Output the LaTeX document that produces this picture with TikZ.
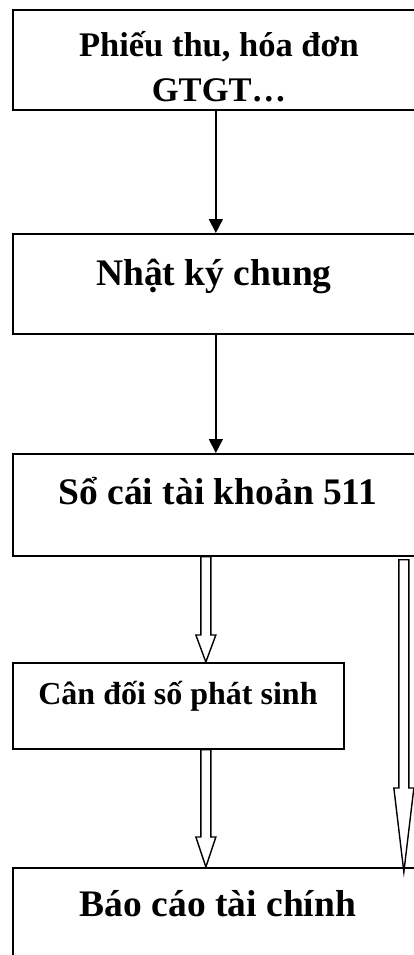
\documentclass[tikz,border=0pt]{standalone}
\usepackage{fontspec}
\setmainfont{Liberation Serif}
\usetikzlibrary{arrows.meta,calc}
% outlined block arrow: #1 = start of shaft, #2 = tip, #3 = head length, #4 = head half-width
\newcommand{\blockarrow}[4]{%
  \draw[hollow] ($(#1)+(-5,0)$) -- ($(#2)+(-5,-#3)$) -- ($(#2)+(-#4,-#3)$) -- (#2)
    -- ($(#2)+(#4,-#3)$) -- ($(#2)+(5,-#3)$) -- ($(#1)+(5,0)$) -- cycle;}
\begin{document}
\begin{tikzpicture}[x=1pt,y=-1pt,
  box/.style={draw, line width=1.7pt, anchor=north west, inner sep=0pt},
  lbl/.style={font=\bfseries\fontsize{37.5}{45}\selectfont, align=center, inner sep=0pt},
  head/.style={font=\bfseries\fontsize{34.5}{45}\selectfont, align=center, inner sep=0pt},
  small/.style={font=\bfseries\fontsize{32}{38}\selectfont, inner sep=0pt},
  flow/.style={line width=1.6pt, -{Triangle[width=14pt,length=14pt]}},
  hollow/.style={draw, line width=1.4pt, fill=white, line join=miter}]
\useasboundingbox (0,0) rectangle (414,955);
\clip (0,0) rectangle (414,955);

% boxes
\node[box, minimum width=412pt, minimum height=100pt] (b1) at (12,9) {};
\node[box, minimum width=412pt, minimum height=100pt] (b2) at (12,233) {};
\node[box, minimum width=412pt, minimum height=102pt] (b3) at (12,453) {};
\node[box, minimum width=331pt, minimum height=86pt] (b4) at (12,662) {};
\node[box, minimum width=412pt, minimum height=150pt] (b5) at (12,867) {};

% box texts
\node[head] (t1) at (219,67) {Phiếu thu, hóa đơn\\GTGT…};
\node[lbl] (t2) at (214,276) {Nhật ký chung};
\node[lbl] (t3) at (218,491) {Sổ cái tài khoản 511};
\node[small] (t4) at (178,696) {Cân đối số phát sinh};
\node[lbl] (t5) at (218,904) {Báo cáo tài chính};

% plain arrows
\draw[flow] ([xshift=-3pt]b1.south) -- ([xshift=-3pt]b2.north);
\draw[flow] ([xshift=-3pt]b2.south) -- ([xshift=-3pt]b3.north);

% block arrows
\coordinate (s1) at ([xshift=-13pt]b3.south);
\coordinate (e1) at (b4.north -| s1);
\coordinate (s2) at (b4.south -| s1);
\coordinate (e2) at (b5.north -| s1);
\coordinate (s3) at ([xshift=185pt,yshift=-3pt]b3.south);
\coordinate (e3) at ([yshift=-5pt]b5.north -| s3);
\blockarrow{s1}{e1}{27}{10}
\blockarrow{s2}{e2}{30}{10}
\blockarrow{s3}{e3}{84}{10}
\end{tikzpicture}
\end{document}
